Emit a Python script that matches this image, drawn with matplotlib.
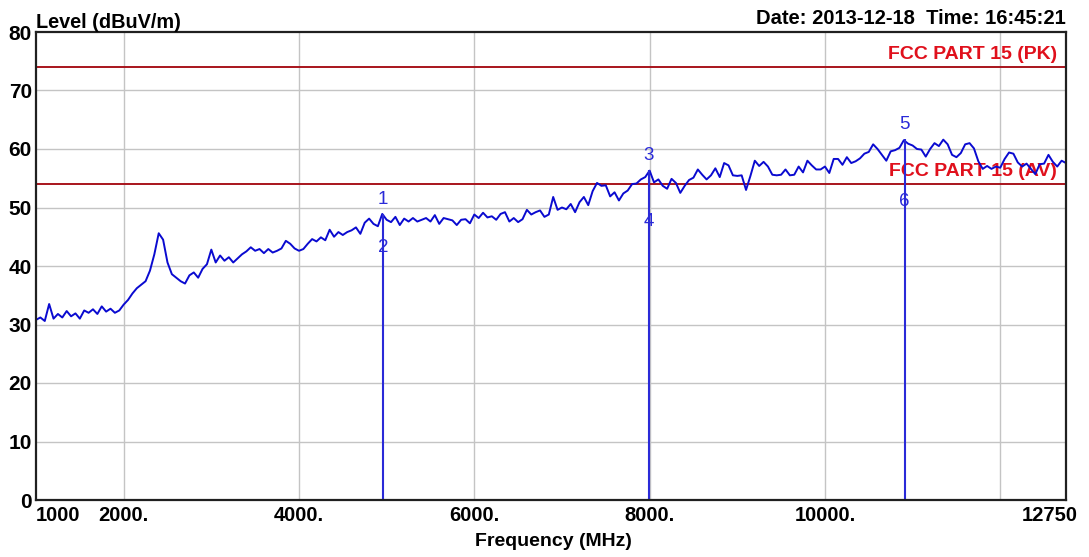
import numpy as np
import matplotlib
matplotlib.use("Agg")
import matplotlib.pyplot as plt
import matplotlib.transforms as mtransforms

plt.rcParams['font.family'] = ['Liberation Sans', 'DejaVu Sans']

# --- scan data: 1000-12750 MHz, 50 MHz steps, level in dBuV/m ---
freq_mhz = np.arange(1000, 12751, 50)

level_dbuv = [
    # 1000 - 1950
    30.8, 31.2, 30.6, 33.5, 31.0, 31.8, 31.2, 32.3, 31.4, 31.9,
    31.0, 32.4, 32.0, 32.6, 31.8, 33.1, 32.2, 32.7, 32.0, 32.4,
    # 2000 - 2950
    33.4, 34.2, 35.3, 36.2, 36.8, 37.4, 39.2, 42.0, 45.6, 44.5,
    40.6, 38.6, 38.0, 37.4, 37.0, 38.4, 38.9, 38.0, 39.5, 40.3,
    # 3000 - 3950
    42.8, 40.6, 41.8, 40.9, 41.5, 40.6, 41.3, 42.0, 42.5, 43.2,
    42.6, 42.9, 42.2, 42.9, 42.3, 42.6, 43.0, 44.3, 43.8, 43.0,
    # 4000 - 4950
    42.6, 42.9, 43.8, 44.6, 44.2, 44.9, 44.4, 46.2, 45.0, 45.8,
    45.3, 45.8, 46.1, 46.6, 45.5, 47.4, 48.1, 47.2, 46.8, 48.9,
    # 5000 - 5950
    47.9, 47.5, 48.4, 47.0, 48.1, 47.6, 48.2, 47.6, 47.9, 48.2,
    47.6, 48.7, 47.2, 48.2, 48.0, 47.8, 47.0, 47.9, 48.0, 47.3,
    # 6000 - 6950
    48.8, 48.2, 49.1, 48.3, 48.5, 47.9, 48.9, 49.2, 47.6, 48.2,
    47.5, 48.0, 49.6, 48.8, 49.2, 49.5, 48.4, 48.8, 51.8, 49.6,
    # 7000 - 7950
    50.0, 49.7, 50.6, 49.2, 50.9, 51.8, 50.4, 52.8, 54.2, 53.7,
    53.8, 51.9, 52.6, 51.2, 52.4, 52.9, 54.0, 54.1, 54.8, 55.2,
    # 8000 - 8950
    56.3, 54.3, 54.8, 53.7, 53.2, 54.9, 54.2, 52.5, 53.7, 54.7,
    55.1, 56.5, 55.6, 54.8, 55.5, 56.7, 55.2, 57.6, 57.2, 55.5,
    # 9000 - 9950
    55.4, 55.5, 53.0, 55.4, 58.0, 57.1, 57.8, 57.0, 55.6, 55.5,
    55.6, 56.5, 55.5, 55.6, 57.0, 56.0, 58.0, 57.2, 56.5, 56.5,
    # 10000 - 10950
    57.0, 55.9, 58.3, 58.3, 57.3, 58.6, 57.6, 57.9, 58.4, 59.2,
    59.5, 60.8, 60.0, 59.0, 58.0, 59.6, 59.8, 60.2, 61.5, 60.9,
    # 11000 - 11950
    60.6, 60.0, 59.9, 58.7, 60.0, 61.0, 60.5, 61.6, 60.8, 59.0,
    58.6, 59.3, 60.8, 61.0, 60.1, 57.9, 56.6, 57.1, 56.6, 57.0,
    # 12000 - 12750
    56.8, 58.3, 59.4, 59.2, 57.7, 57.0, 57.5, 56.6, 55.7, 57.4,
    57.5, 59.0, 57.8, 57.0, 58.0, 57.6,
]

# limit lines
limit_pk = 74.0
limit_av = 54.0

# marker readings (odd = peak, even = average)
marker_freq = [4960, 7990, 10910]
marker_pk = [48.9, 56.4, 61.7]
marker_av = [43.1, 47.6, 51.1]
marker_pk_ids = ["1", "3", "5"]
marker_av_ids = ["2", "4", "6"]

x_ticks = [1000, 2000, 4000, 6000, 8000, 10000, 12750]
x_tick_labels = ["1000", "2000.", "4000.", "6000.", "8000.", "10000.", "12750"]
y_ticks = list(range(0, 81, 10))

trace_color = "#0a0ad0"
marker_color = "#2a2ad8"

fig = plt.figure(figsize=(10.89, 5.57), dpi=100)
ax = fig.add_axes([36 / 1089, 57 / 557, 1030 / 1089, 468 / 557])

ax.set_xlim(1000, 12750)
ax.set_ylim(0, 80)

# grid
for gx in range(2000, 12001, 2000):
    ax.axvline(gx, color="#c4c4c4", lw=1.0, zorder=0)
for gy in range(10, 80, 10):
    ax.axhline(gy, color="#c4c4c4", lw=1.0, zorder=0)

# limit lines and their captions
ax.axhline(limit_pk, color="#a8141c", lw=1.4, zorder=1)
ax.axhline(limit_av, color="#a8141c", lw=1.4, zorder=1)
off_right = mtransforms.ScaledTranslation(-9 / 100, 0, fig.dpi_scale_trans)
ax.text(1.0, limit_pk + 0.7, "FCC PART 15 (PK)", transform=ax.get_yaxis_transform() + off_right,
        ha="right", va="bottom", color="#e0101c", fontsize=14, fontweight="bold", zorder=2)
ax.text(1.0, limit_av + 0.7, "FCC PART 15 (AV)", transform=ax.get_yaxis_transform() + off_right,
        ha="right", va="bottom", color="#e0101c", fontsize=14, fontweight="bold", zorder=2)

# measured trace
ax.plot(freq_mhz, level_dbuv, color=trace_color, lw=1.4, zorder=3)

# marker lines with their numbers
lift = mtransforms.ScaledTranslation(0, 6 / 100, fig.dpi_scale_trans)
for f, pk, av, pk_id, av_id in zip(marker_freq, marker_pk, marker_av, marker_pk_ids, marker_av_ids):
    ax.vlines(f, 0, pk, color=marker_color, lw=1.5, zorder=4)
    ax.text(f, pk, pk_id, transform=ax.transData + lift, ha="center", va="bottom",
            color=marker_color, fontsize=13.5, zorder=5)
    ax.text(f, av, av_id, ha="center", va="center", color=marker_color, fontsize=13.5, zorder=5)

# ticks
ax.set_xticks(x_ticks)
ax.set_xticklabels(x_tick_labels, fontsize=14.5, fontweight="bold")
ax.set_yticks(y_ticks)
ax.set_yticklabels([str(v) for v in y_ticks], fontsize=15, fontweight="bold")
ax.tick_params(axis="both", length=0)
ax.tick_params(axis="x", pad=4)
ax.tick_params(axis="y", pad=3)

xlabels = ax.get_xticklabels()
xlabels[0].set_ha("left")
xlabels[-1].set_transform(xlabels[-1].get_transform() +
                          mtransforms.ScaledTranslation(-16 / 100, 0, fig.dpi_scale_trans))

for spine in ax.spines.values():
    spine.set_linewidth(1.6)
    spine.set_color("#202020")
    spine.set_zorder(6)

# titles around the frame
fig.text(36 / 1089, 1 - 28 / 557, "Level (dBuV/m)", ha="left", va="baseline",
         fontsize=14.3, fontweight="bold")
fig.text(1066 / 1089, 1 - 24 / 557, "Date: 2013-12-18  Time: 16:45:21", ha="right", va="baseline",
         fontsize=14.5, fontweight="bold")
fig.text(553 / 1089, 1 - 542 / 557, "Frequency (MHz)", ha="center", va="center",
         fontsize=14, fontweight="bold")

fig.savefig("out.png", dpi=100)
